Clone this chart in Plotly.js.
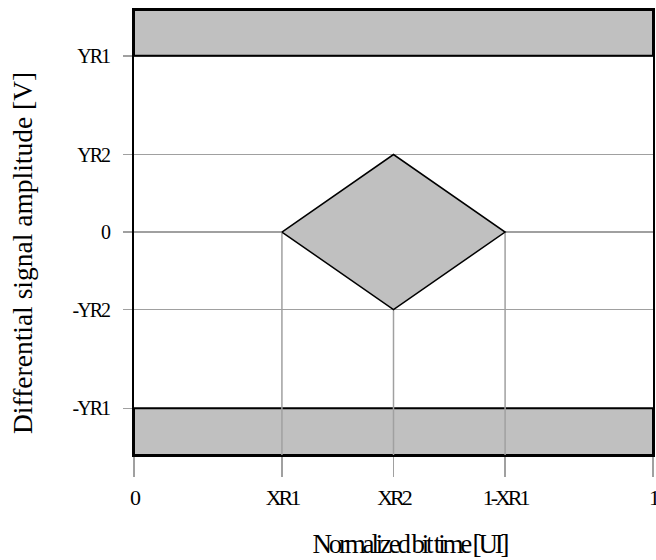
<!DOCTYPE html>
<html>
<head>
<meta charset="utf-8">
<script src="https://cdn.plot.ly/plotly-3.0.1.min.js"></script>
<style>
  html, body { margin: 0; padding: 0; background: #fff; }
  #chart { width: 656px; height: 560px; }
  .xtick text { letter-spacing: -3px; }
  .ytick text { letter-spacing: -2px; }
</style>
</head>
<body>
<div id="chart"></div>
<script>
// ---- data ----
const XR1 = 0.285;
const XR2 = 0.5;
const YR1 = 1;
const YR2 = 0.44;
const yTop = 1.26;
const yBottom = -1.265;

const xTickVals = [0, XR1, XR2, 1 - XR1, 1];
const xTickLabels = ['0', 'XR1', 'XR2', '1-XR1', '1'];
const yTickVals = [YR1, YR2, 0, -YR2, -YR1];
const yTickLabels = ['YR1', 'YR2', '0', '-YR2', '-YR1'];

const diamondX = [XR1, XR2, 1 - XR1, XR2, XR1];
const diamondY = [0, YR2, 0, -YR2, 0];

const upperBandX = [0, 1, 1, 0, 0];
const upperBandY = [YR1, YR1, yTop, yTop, YR1];
const lowerBandX = [0, 1, 1, 0, 0];
const lowerBandY = [-YR1, -YR1, yBottom, yBottom, -YR1];

// vertical guide lines: x position, start y
const vLineX = [XR1, XR2, 1 - XR1];
const vLineTopY = [0, -YR2, 0];

const xTitle = 'Normalized bit time [UI]';
const yTitle = 'Differential signal amplitude [V]';

// ---- traces ----
const FILL = '#c0c0c0';
const GRID = '#a0a0a0';
const traces = [];
traces.push({
  x: upperBandX, y: upperBandY, type: 'scatter', mode: 'lines',
  fill: 'toself', fillcolor: FILL, line: {color: '#000', width: 2},
  hoverinfo: 'skip', showlegend: false
});
traces.push({
  x: lowerBandX, y: lowerBandY, type: 'scatter', mode: 'lines',
  fill: 'toself', fillcolor: FILL, line: {color: '#000', width: 2},
  hoverinfo: 'skip', showlegend: false
});
vLineX.forEach((vx, i) => {
  traces.push({
    x: [vx, vx], y: [vLineTopY[i], yBottom], type: 'scatter', mode: 'lines',
    line: {color: GRID, width: 1.5}, hoverinfo: 'skip', showlegend: false
  });
});
traces.push({
  x: diamondX, y: diamondY, type: 'scatter', mode: 'lines',
  fill: 'toself', fillcolor: FILL, line: {color: '#000', width: 1.5},
  hoverinfo: 'skip', showlegend: false
});

const FONT = 'Liberation Serif, Times New Roman, serif';

const layout = {
  width: 656, height: 560,
  margin: {l: 134, r: 3, t: 10, b: 105},
  paper_bgcolor: '#fff', plot_bgcolor: '#fff',
  showlegend: false,
  font: {family: FONT, color: '#000'},
  xaxis: {
    range: [0, 1], tickvals: xTickVals, ticktext: xTickLabels,
    ticks: 'outside', ticklen: 20, tickwidth: 1.5, tickcolor: GRID,
    tickfont: {family: FONT, size: 22, color: '#000'},
    ticklabelstandoff: 2, ticklabeloverflow: 'allow',
    showgrid: false, zeroline: false,
    showline: true, linecolor: '#000', linewidth: 2, mirror: true,
    fixedrange: true
  },
  yaxis: {
    range: [yBottom, yTop], tickvals: yTickVals, ticktext: yTickLabels,
    ticks: 'outside', ticklen: 9, tickwidth: 1.5, tickcolor: GRID,
    tickfont: {family: FONT, size: 20, color: '#000'},
    ticklabelstandoff: 10,
    showgrid: true, gridcolor: GRID, gridwidth: 1.5, zeroline: false,
    showline: true, linecolor: '#000', linewidth: 2, mirror: true,
    fixedrange: true
  },
  annotations: [
    {
      text: xTitle, xref: 'paper', yref: 'paper',
      x: (409 - 134) / 519, y: -(544 - 455) / 445,
      xanchor: 'center', yanchor: 'middle', showarrow: false,
      font: {family: FONT, size: 27, color: '#000'}
    },
    {
      text: yTitle, xref: 'paper', yref: 'paper',
      x: (22 - 134) / 519, y: (455 - 253) / 445,
      xanchor: 'center', yanchor: 'middle', showarrow: false, textangle: -90,
      font: {family: FONT, size: 27.5, color: '#000'}
    }
  ]
};

Plotly.newPlot('chart', traces, layout, {displayModeBar: false, staticPlot: true}).then(() => {
  const ann = document.querySelectorAll('.annotation-text');
  if (ann.length) ann[0].style.letterSpacing = '-3.2px';
});
</script>
</body>
</html>
